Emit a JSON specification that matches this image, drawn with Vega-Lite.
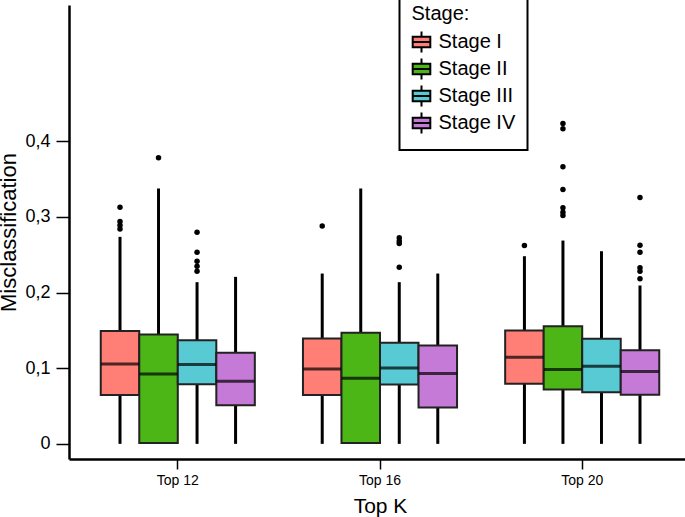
{
  "$schema": "https://vega.github.io/schema/vega-lite/v6.json",
  "autosize": "none",
  "padding": {"left": 69, "top": 5, "right": 0, "bottom": 58},
  "width": 622,
  "height": 454,
  "background": "white",
  "config": {
    "view": {"stroke": null},
    "font": "Liberation Sans",
    "axis": {"grid": false, "domainColor": "black", "tickColor": "black", "labelColor": "black", "titleColor": "black", "titleFontWeight": "normal"},
    "legend": {"strokeColor": "black", "strokeWidth": 2, "fillColor": "white", "padding": 12}
  },
  "datasets": {
    "boxes": [
      {"topk": "Top 12", "stage": "Stage I", "lower": 0, "q1": 0.0647, "median": 0.1057, "q3": 0.149, "upper": 0.2736},
      {"topk": "Top 12", "stage": "Stage II", "lower": 0, "q1": 0.001, "median": 0.0925, "q3": 0.1445, "upper": 0.3375},
      {"topk": "Top 12", "stage": "Stage III", "lower": 0, "q1": 0.0788, "median": 0.1048, "q3": 0.137, "upper": 0.2137},
      {"topk": "Top 12", "stage": "Stage IV", "lower": 0, "q1": 0.051, "median": 0.0828, "q3": 0.1203, "upper": 0.2207},
      {"topk": "Top 16", "stage": "Stage I", "lower": 0, "q1": 0.0647, "median": 0.0991, "q3": 0.1392, "upper": 0.2251},
      {"topk": "Top 16", "stage": "Stage II", "lower": 0, "q1": 0.001, "median": 0.0867, "q3": 0.1467, "upper": 0.3375},
      {"topk": "Top 16", "stage": "Stage III", "lower": 0, "q1": 0.0784, "median": 0.1004, "q3": 0.1335, "upper": 0.2137},
      {"topk": "Top 16", "stage": "Stage IV", "lower": 0, "q1": 0.048, "median": 0.0929, "q3": 0.1299, "upper": 0.2251},
      {"topk": "Top 20", "stage": "Stage I", "lower": 0, "q1": 0.0793, "median": 0.1145, "q3": 0.1499, "upper": 0.248},
      {"topk": "Top 20", "stage": "Stage II", "lower": 0, "q1": 0.0718, "median": 0.0982, "q3": 0.1555, "upper": 0.2687},
      {"topk": "Top 20", "stage": "Stage III", "lower": 0, "q1": 0.0682, "median": 0.1026, "q3": 0.1388, "upper": 0.2546},
      {"topk": "Top 20", "stage": "Stage IV", "lower": 0, "q1": 0.0648, "median": 0.0956, "q3": 0.1237, "upper": 0.2093}
    ],
    "outliers": [
      {"topk": "Top 12", "stage": "Stage I", "value": 0.3128},
      {"topk": "Top 12", "stage": "Stage I", "value": 0.294},
      {"topk": "Top 12", "stage": "Stage I", "value": 0.289},
      {"topk": "Top 12", "stage": "Stage I", "value": 0.284},
      {"topk": "Top 12", "stage": "Stage II", "value": 0.378},
      {"topk": "Top 12", "stage": "Stage III", "value": 0.2797},
      {"topk": "Top 12", "stage": "Stage III", "value": 0.2533},
      {"topk": "Top 12", "stage": "Stage III", "value": 0.2414},
      {"topk": "Top 12", "stage": "Stage III", "value": 0.2348},
      {"topk": "Top 12", "stage": "Stage III", "value": 0.2282},
      {"topk": "Top 16", "stage": "Stage I", "value": 0.288},
      {"topk": "Top 16", "stage": "Stage III", "value": 0.2723},
      {"topk": "Top 16", "stage": "Stage III", "value": 0.268},
      {"topk": "Top 16", "stage": "Stage III", "value": 0.2648},
      {"topk": "Top 16", "stage": "Stage III", "value": 0.2335},
      {"topk": "Top 20", "stage": "Stage I", "value": 0.2621},
      {"topk": "Top 20", "stage": "Stage II", "value": 0.4234},
      {"topk": "Top 20", "stage": "Stage II", "value": 0.4164},
      {"topk": "Top 20", "stage": "Stage II", "value": 0.3661},
      {"topk": "Top 20", "stage": "Stage II", "value": 0.3362},
      {"topk": "Top 20", "stage": "Stage II", "value": 0.312},
      {"topk": "Top 20", "stage": "Stage II", "value": 0.306},
      {"topk": "Top 20", "stage": "Stage II", "value": 0.3018},
      {"topk": "Top 20", "stage": "Stage IV", "value": 0.3257},
      {"topk": "Top 20", "stage": "Stage IV", "value": 0.2626},
      {"topk": "Top 20", "stage": "Stage IV", "value": 0.2533},
      {"topk": "Top 20", "stage": "Stage IV", "value": 0.2327},
      {"topk": "Top 20", "stage": "Stage IV", "value": 0.2282},
      {"topk": "Top 20", "stage": "Stage IV", "value": 0.2181}
    ]
  },
  "encoding": {
    "x": {
      "field": "topk", "type": "nominal",
      "scale": {"domain": ["Top 12", "Top 16", "Top 20"], "paddingInner": 0.238, "paddingOuter": 0.157},
      "axis": {"title": "Top K", "labelAngle": 0, "domainWidth": 2.5, "tickSize": 10, "tickWidth": 1.5, "labelFontSize": 14, "labelPadding": 4, "titleFontSize": 21, "titlePadding": 8}
    },
    "xOffset": {"field": "stage", "type": "nominal", "scale": {"domain": ["Stage I", "Stage II", "Stage III", "Stage IV"], "paddingInner": 0, "paddingOuter": 0}}
  },
  "layer": [
    {
      "data": {"name": "boxes"},
      "mark": {"type": "rule", "color": "black", "strokeWidth": 3},
      "encoding": {
        "y": {
          "field": "lower", "type": "quantitative",
          "scale": {"domain": [-0.02, 0.58], "nice": false, "zero": false},
          "axis": {
            "title": "Misclassification", "titleFontSize": 22, "titlePadding": 4,
            "values": [0, 0.1, 0.2, 0.3, 0.4],
            "labelExpr": "datum.value == 0 ? '0' : replace(format(datum.value, '.1f'), '.', ',')",
            "labelFontSize": 18, "domainWidth": 2.5, "tickSize": 13, "tickWidth": 1.5, "labelPadding": 6
          }
        },
        "y2": {"field": "upper"}
      }
    },
    {
      "data": {"name": "boxes"},
      "mark": {"type": "bar", "stroke": "#222222", "strokeWidth": 2},
      "encoding": {
        "y": {"field": "q1", "type": "quantitative"},
        "y2": {"field": "q3"},
        "color": {
          "field": "stage", "type": "nominal",
          "scale": {"domain": ["Stage I", "Stage II", "Stage III", "Stage IV"], "range": ["#FF7F76", "#4BB615", "#58CAD4", "#C47AD6"]},
          "legend": {
            "title": "Stage:", "orient": "none", "legendX": 330.5, "legendY": -13,
            "titleFontSize": 20, "titleFontWeight": "normal", "titleColor": "black", "titlePadding": 8,
            "labelFontSize": 20, "labelColor": "black", "labelOffset": 7,
            "symbolType": "M-1,-0.6H1V0.6H-1Z M-1,0H1 M0,-0.6V-1.2 M0,0.6V1.2",
            "symbolSize": 310, "symbolStrokeColor": "black", "symbolStrokeWidth": 2, "symbolOpacity": 1,
            "rowPadding": -3
          }
        }
      }
    },
    {
      "data": {"name": "boxes"},
      "mark": {"type": "tick", "color": "black", "thickness": 3, "size": 38},
      "encoding": {"y": {"field": "median", "type": "quantitative"}}
    },
    {
      "data": {"name": "outliers"},
      "mark": {"type": "point", "filled": true, "color": "black", "opacity": 1, "size": 30},
      "encoding": {"y": {"field": "value", "type": "quantitative"}}
    }
  ]
}
